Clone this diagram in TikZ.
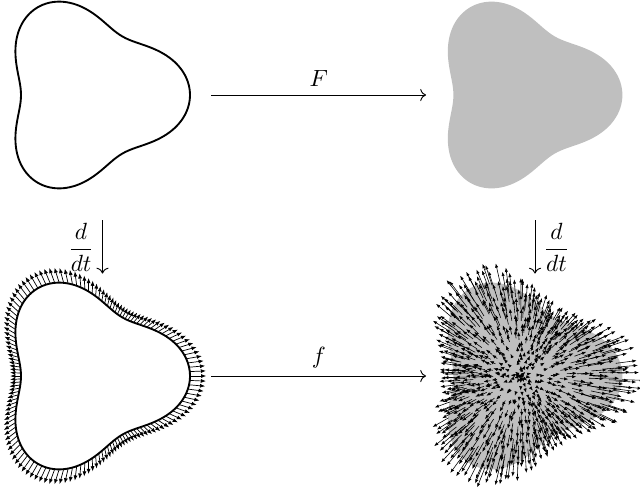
\documentclass[tikz,border=0pt]{standalone}
\usepackage{amsmath}
\usetikzlibrary{arrows.meta}
\newcommand{\blobcurve}{plot[domain=0:357,samples=120,smooth cycle] (\x:{blob(\x)})}
\begin{document}
\begin{tikzpicture}
  [x=0.015cm,y=0.015cm,
   declare function={blob(\u)=84.5*(1+0.2*cos(3*\u));},
   obj/.style={minimum width=2.625cm,minimum height=2.79cm,inner sep=0pt},
   vec/.style={line width=0.3pt,-{Latex[length=2.2pt,width=1.7pt]}},
   fieldvec/.style={line width=0.25pt,-{Latex[length=1.8pt,width=1.4pt]}}]
  \useasboundingbox (0,0) rectangle (640,486);
  \node[obj] (loop) at (102.5,391) {};
  \node[obj] (region) at (535,391) {};
  \node[obj] (velocity) at (102.5,110) {};
  \node[obj] (field) at (535,110) {};

  % the four pictures
  \draw[thick,shift={(88.6,391)}] \blobcurve;
  \fill[black!25,shift={(521,391)}] \blobcurve;
  \draw[thick,shift={(88.6,110)}] \blobcurve;
  \foreach \a in {0,2.5,...,357.5}
    \draw[vec,shift={(88.6,110)}] (\a:{blob(\a)}) -- (\a:{1.16*blob(\a)});
  \fill[black!25,shift={(521,110)}] \blobcurve;
  \pgfmathsetseed{3}
  \foreach \k in {1,...,16}{
    \pgfmathtruncatemacro\n{6*\k}
    \foreach \j in {1,...,\n}{
      \pgfmathsetmacro\phi{360/\n*(\j+rnd)}
      \pgfmathsetmacro\len{(\k-rnd)/16*blob(\phi)}
      \draw[fieldvec,shift={(521,110)}] (\phi:\len) -- (\phi:{1.22*\len});
    }
  }

  % maps
  \draw[->,shorten <=0.315cm,shorten >=0.315cm] (loop) -- node[above] {$F$} (region);
  \draw[->,shorten <=0.315cm,shorten >=0.315cm] (velocity) -- node[above] {$f$} (field);
  \draw[->,shorten <=0.48cm,shorten >=0.135cm] (loop) -- node[left,pos=0.63] {$\dfrac{d}{dt}$} (velocity);
  \draw[->,shorten <=0.48cm,shorten >=0.135cm] (region) -- node[right,pos=0.63] {$\dfrac{d}{dt}$} (field);
\end{tikzpicture}
\end{document}
